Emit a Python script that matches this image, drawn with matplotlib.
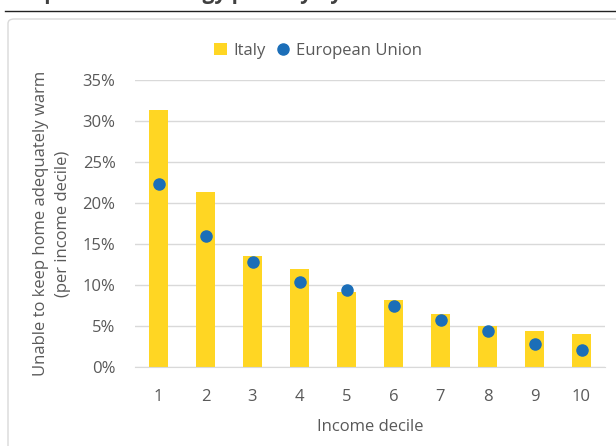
import numpy as np
import matplotlib.pyplot as plt
from matplotlib.patches import FancyBboxPatch
from matplotlib.lines import Line2D
from matplotlib.ticker import PercentFormatter

plt.rcParams['font.family'] = ['Open Sans', 'DejaVu Sans']

deciles = [1, 2, 3, 4, 5, 6, 7, 8, 9, 10]
italy = [31.4, 21.4, 13.5, 11.9, 9.1, 8.2, 6.5, 5.0, 4.4, 4.0]
eu = [22.3, 16.0, 12.8, 10.4, 9.4, 7.4, 5.7, 4.4, 2.8, 2.1]
yticks = [0, 5, 10, 15, 20, 25, 30, 35]

yellow = '#FFD623'
blue = '#1B6EB8'
grey = '#595959'

fig = plt.figure(figsize=(6.16, 4.46), dpi=100)

# cut-off title above the chart and the rule under it
fig.text(12 / 616, 1 + 1.5 / 446, 'Disparities in energy poverty by income decile',
         fontsize=15, fontweight='bold', color='#404040', va='baseline')
fig.add_artist(Line2D([5 / 616, 1], [1 - 11 / 446] * 2, color='#222222', lw=1))

# chart area frame (behind the axes)
frame = FancyBboxPatch((8 / 616, -0.05), 1.05, 1 - 19 / 446 + 0.05,
                       boxstyle='round,pad=0,rounding_size=0.01',
                       transform=fig.transFigure, facecolor='white',
                       edgecolor='#D9D9D9', lw=1, zorder=-5)
fig.add_artist(frame)

ax = fig.add_axes([135 / 616, 79 / 446, 470 / 616, 287 / 446])
ax.set_facecolor('none')
ax.set_zorder(1)
bars = ax.bar(deciles, italy, width=0.40, color=yellow, label='Italy', zorder=2)
dots, = ax.plot(deciles, eu, 'o', color=blue, markersize=8, label='European Union', zorder=3)

ax.set_xlim(0.5, 10.5)
ax.set_ylim(0, 35)
ax.set_yticks(yticks)
ax.yaxis.set_major_formatter(PercentFormatter(decimals=0))
ax.set_xticks(deciles)
ax.grid(axis='y', color='#D9D9D9', lw=1, zorder=0)
ax.set_axisbelow(True)
for s in ['top', 'right', 'left']:
    ax.spines[s].set_visible(False)
ax.spines['bottom'].set_color('#D9D9D9')
ax.tick_params(length=0, labelsize=12, labelcolor=grey)
ax.tick_params(axis='x', pad=16)
ax.tick_params(axis='y', pad=14)

ax.set_xlabel('Income decile', fontsize=12, color=grey, labelpad=10)
ax.set_ylabel('Unable to keep home adequately warm\n(per income decile)',
              fontsize=12, color=grey, labelpad=8, linespacing=1.5)

fig.legend([bars, dots], ['Italy', 'European Union'], loc='center',
           bbox_to_anchor=(318 / 616, 1 - 51 / 446), ncol=2,
           frameon=False, fontsize=12, labelcolor=grey, handlelength=0.8,
           handletextpad=0.4, columnspacing=0.6)

fig.savefig('out.png', dpi=100)
